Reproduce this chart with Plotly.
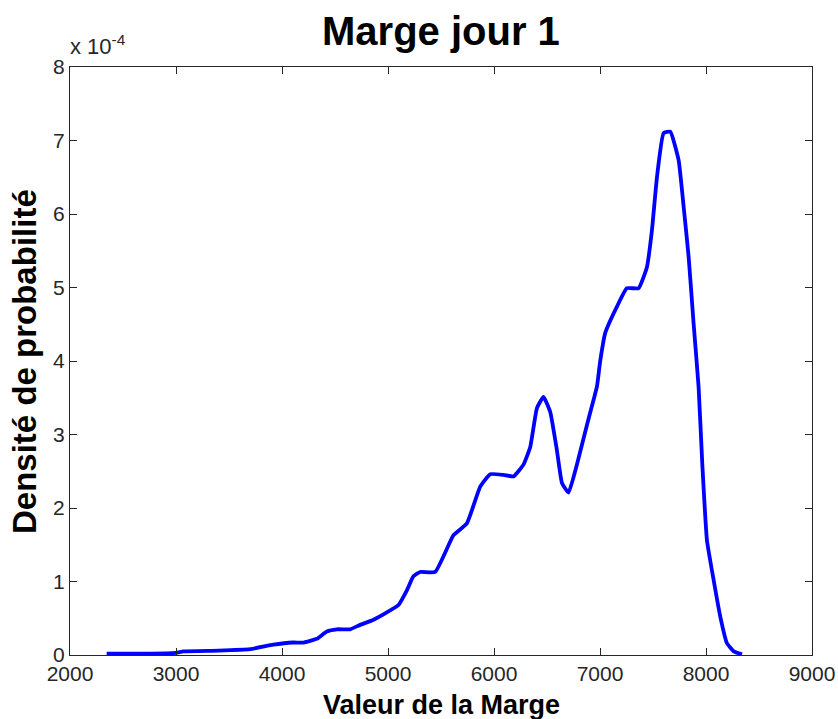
import plotly.graph_objects as go

# Data (density in units of 1e-4)
marge = [2346, 2700, 3000, 3070, 3400, 3699, 3917, 4104, 4202, 4328, 4423, 4517, 4643,
         4737, 4863, 4989, 5099, 5178, 5240, 5303, 5445, 5618, 5744, 5870, 5964, 6090,
         6184, 6278, 6342, 6405, 6467, 6530, 6593, 6641, 6703, 6782, 6877, 6939, 6971,
         7002, 7049, 7160, 7254, 7364, 7443, 7490, 7538, 7600, 7663, 7742, 7789, 7836,
         7883, 7930, 7965, 8009, 8072, 8135, 8198, 8261, 8340]
densite_e4 = [0.02, 0.02, 0.03, 0.05, 0.06, 0.08, 0.14, 0.17, 0.17, 0.22, 0.32, 0.35, 0.35,
              0.41, 0.48, 0.58, 0.68, 0.88, 1.07, 1.13, 1.13, 1.63, 1.79, 2.29, 2.46, 2.45,
              2.43, 2.59, 2.83, 3.36, 3.51, 3.31, 2.79, 2.34, 2.21, 2.59, 3.13, 3.47, 3.65,
              4.0, 4.38, 4.74, 4.99, 4.99, 5.28, 5.78, 6.51, 7.10, 7.12, 6.73, 6.10, 5.42,
              4.51, 3.65, 2.6, 1.56, 1.02, 0.52, 0.16, 0.05, 0.01]

x_ticks = [2000, 3000, 4000, 5000, 6000, 7000, 8000, 9000]
y_ticks = [0, 1, 2, 3, 4, 5, 6, 7, 8]

FONT = "Liberation Sans, Arial, Helvetica"

fig = go.Figure()
fig.add_trace(go.Scatter(x=marge, y=densite_e4, mode="lines",
                         line=dict(color="#0000ff", width=3.8, shape="spline", smoothing=0.4),
                         showlegend=False))

axis_common = dict(showline=True, linecolor="#262626", linewidth=1, mirror="ticks",
                   ticks="inside", ticklen=7, tickcolor="#262626", showgrid=False,
                   zeroline=False, automargin=False,
                   tickfont=dict(family=FONT, size=21, color="#262626"))

fig.update_layout(
    width=838, height=719,
    paper_bgcolor="white", plot_bgcolor="white",
    margin=dict(l=70, r=26, t=67, b=64),
    xaxis=dict(range=[2000, 9000], tickvals=x_ticks, **axis_common),
    yaxis=dict(range=[0, 8], tickvals=y_ticks, **axis_common),
    annotations=[
        dict(text="<b>Marge jour 1</b>", xref="paper", yref="paper", x=0.5, y=1.062,
             xanchor="center", yanchor="middle", showarrow=False,
             font=dict(family=FONT, size=40, color="black")),
        dict(text="<b>Valeur de la Marge</b>", xref="paper", yref="paper", x=0.5, y=-0.085,
             xanchor="center", yanchor="middle", showarrow=False,
             font=dict(family=FONT, size=27, color="black")),
        dict(text="<b>Densité de probabilité</b>", xref="paper", yref="paper", x=-0.062, y=0.5,
             xanchor="center", yanchor="middle", showarrow=False, textangle=-90,
             font=dict(family=FONT, size=33, color="black")),
        dict(text="x 10<sup>-4</sup>", xref="paper", yref="paper", x=0, y=1,
             xanchor="left", yanchor="bottom", showarrow=False, xshift=-2, yshift=6,
             font=dict(family=FONT, size=22, color="#262626")),
    ],
)

fig.write_html("out.html", config={"displayModeBar": False},
               post_script="document.body.style.margin='0';document.body.style.overflow='hidden';")
